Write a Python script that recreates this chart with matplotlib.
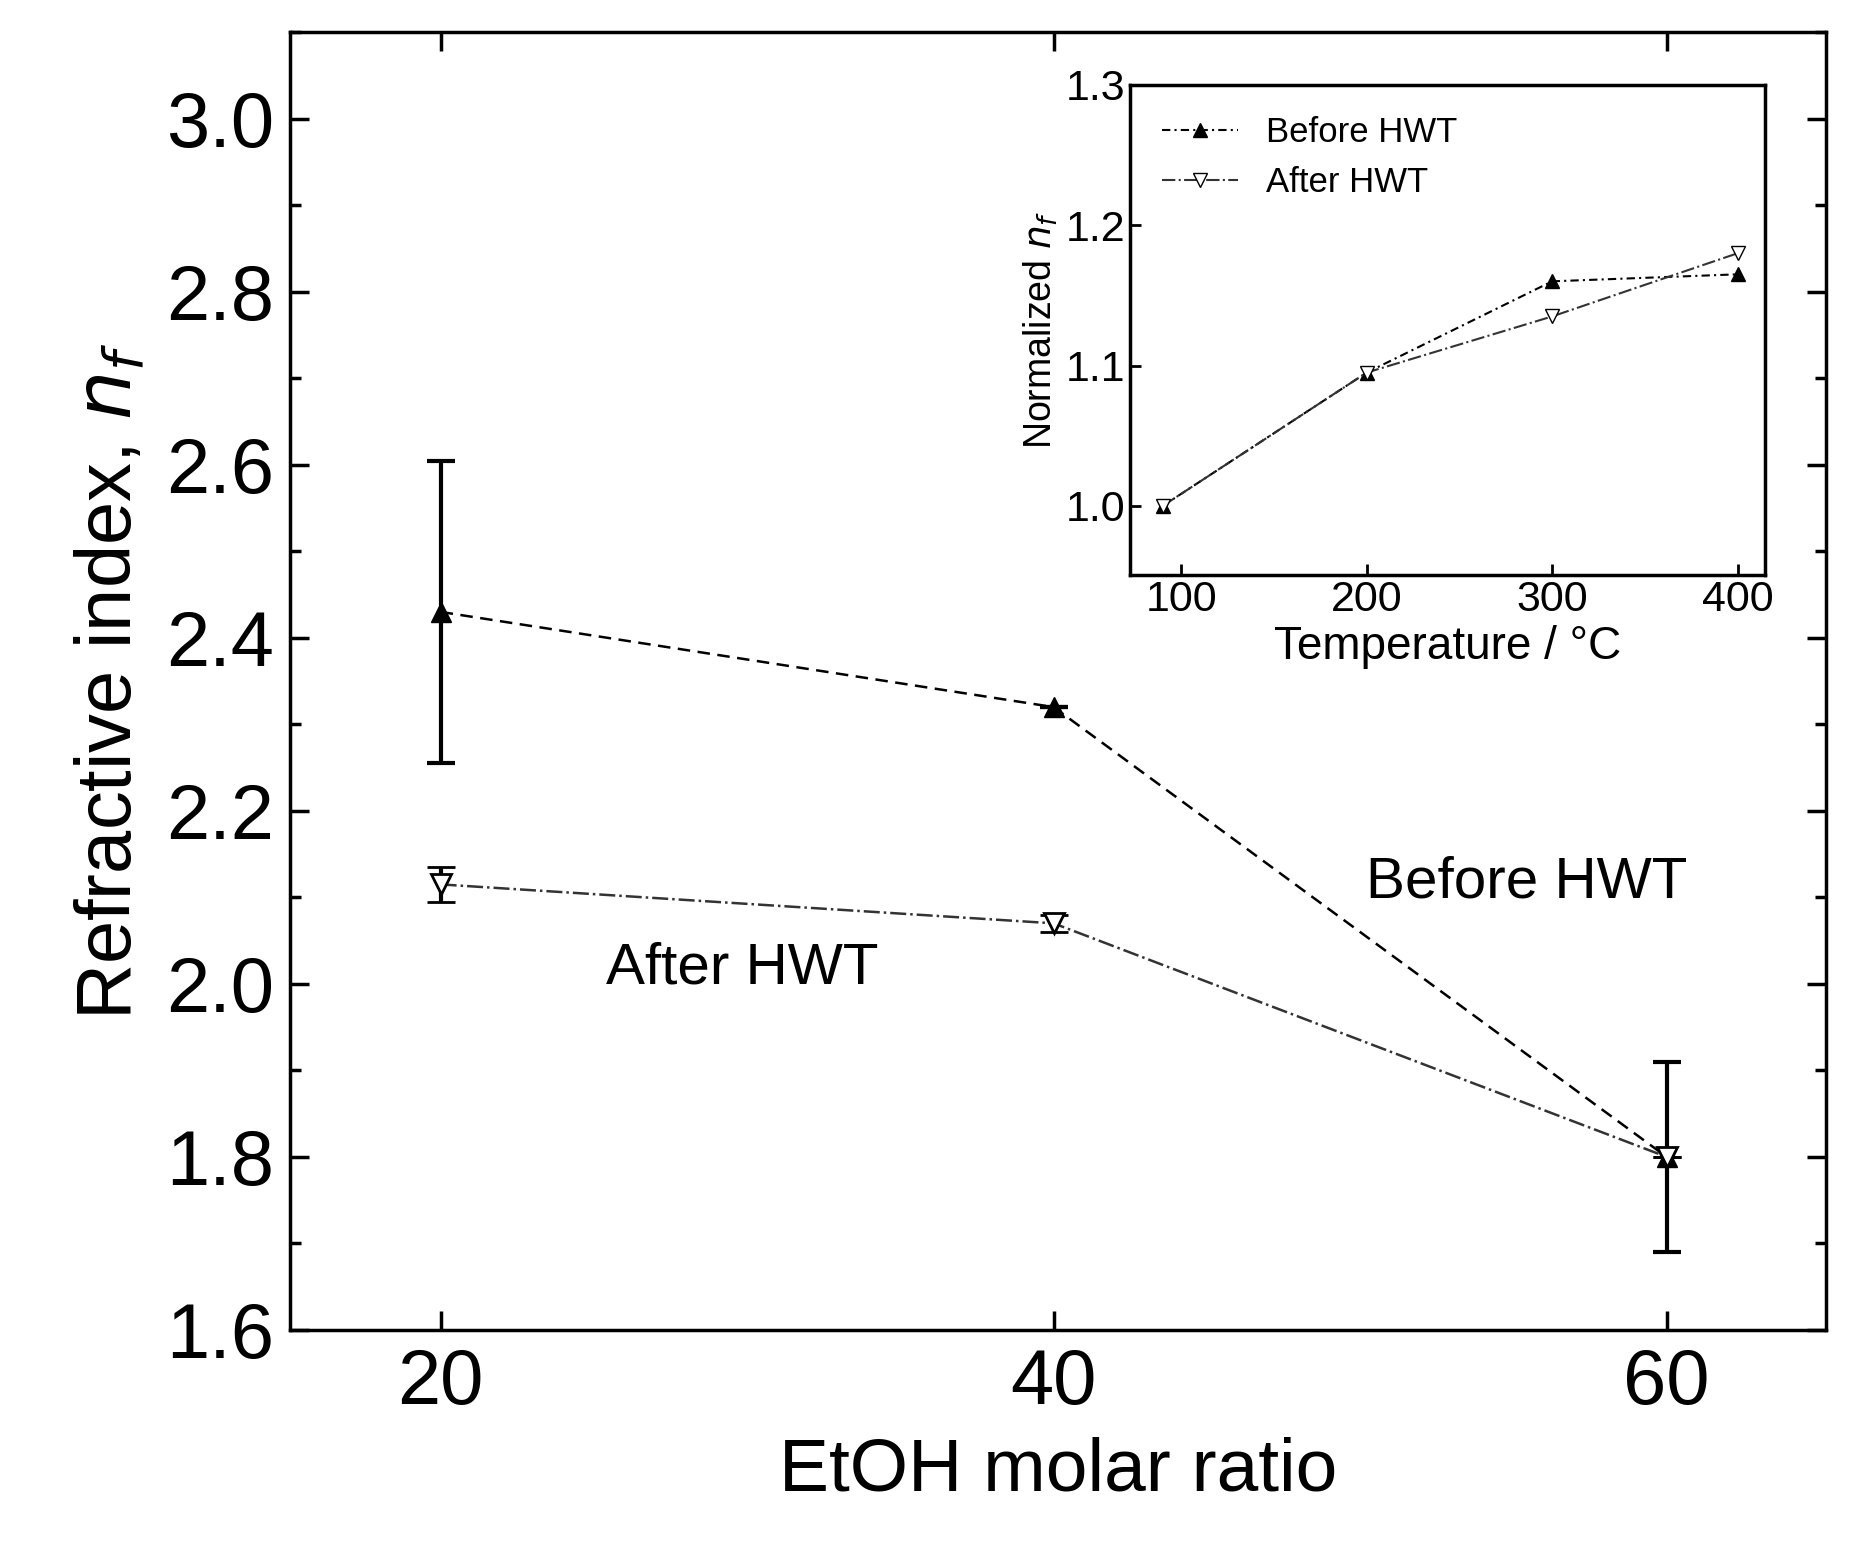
import matplotlib
matplotlib.use("Agg")
import matplotlib.pyplot as plt
from matplotlib.ticker import MultipleLocator

plt.rcParams['font.family'] = ['Liberation Sans', 'DejaVu Sans']

x_main = [20, 40, 60]
before = [2.43, 2.32, 1.80]
before_err = [0.175, 0.0, 0.11]
after = [2.115, 2.07, 1.80]
after_err = [0.02, 0.01, 0.0]

x_in = [90, 200, 300, 400]
before_in = [1.0, 1.095, 1.16, 1.165]
after_in = [1.0, 1.095, 1.135, 1.18]

fig = plt.figure(figsize=(18.5, 15.41), dpi=100)
ax = fig.add_axes([0.157, 0.137, 0.83, 0.842])
ax.errorbar(x_main, before, yerr=before_err, color='black', ls=(0, (5, 3)), lw=1.8,
            marker='^', ms=14, mfc='black', capsize=10, elinewidth=3, capthick=3)
ax.errorbar(x_main, after, yerr=after_err, color='#333333', ls='-.', lw=1.8,
            marker='v', ms=14, mfc='white', mec='black', mew=2, capsize=10,
            elinewidth=3, capthick=3, ecolor='black')
ax.set_xlim(15.1, 65.2)
ax.set_ylim(1.6, 3.1)
ax.set_xticks(x_main)
ax.yaxis.set_major_locator(MultipleLocator(0.2))
ax.yaxis.set_minor_locator(MultipleLocator(0.1))
ax.tick_params(which='both', direction='in', top=True, right=True, width=2.5)
ax.tick_params(which='major', length=14, labelsize=56, pad=12)
ax.tick_params(which='minor', length=8)
for s in ax.spines.values():
    s.set_linewidth(2.5)
ax.set_xlabel('EtOH molar ratio', fontsize=54, labelpad=12)
ax.set_ylabel(r'Refractive index, $n_f$', fontsize=56, labelpad=12)
ax.text(50.2, 2.10, 'Before HWT', fontsize=42)
ax.text(25.4, 2.00, 'After HWT', fontsize=42)

ins = fig.add_axes([0.611, 0.627, 0.343, 0.318])
ins.plot(x_in, before_in, color='black', ls=(0, (4, 2, 1, 2)), lw=1.5,
         marker='^', ms=10, mfc='black', label='Before HWT')
ins.plot(x_in, after_in, color='#333333', ls='-.', lw=1.5,
         marker='v', ms=10, mfc='white', mec='black', label='After HWT')
ins.set_xlim(72.6, 414.7)
ins.set_ylim(0.951, 1.3)
ins.set_xticks([100, 200, 300, 400])
ins.set_yticks([1.0, 1.1, 1.2, 1.3])
ins.tick_params(direction='in', labelsize=31, width=2, length=8)
for s in ins.spines.values():
    s.set_linewidth(2.5)
ins.set_xlabel('Temperature / °C', fontsize=33)
ins.set_ylabel(r'Normalized $n_f$', fontsize=27)
ins.legend(loc='upper left', fontsize=25, frameon=False, handlelength=2.2)

fig.savefig('out.png')
